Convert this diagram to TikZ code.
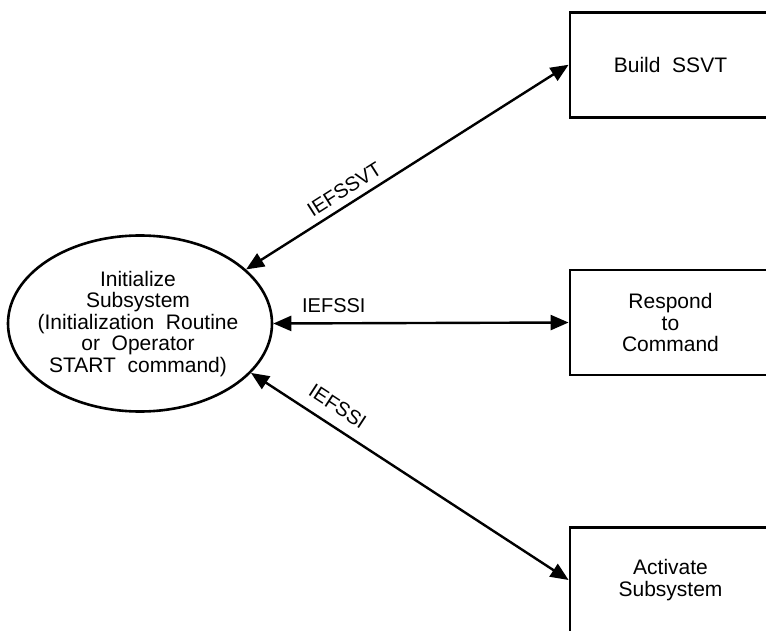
\documentclass[tikz,border=0pt]{standalone}
\usepackage{fontspec}
\setmainfont{Liberation Sans}
\usetikzlibrary{shapes.geometric,arrows.meta}
\begin{document}
\begin{tikzpicture}[x=1pt,y=-1pt,
  boxnode/.style={draw, line width=2.8pt, minimum width=201pt, minimum height=105pt,
    inner sep=0pt, align=center, font=\fontsize{21}{21.5}\selectfont},
  flow/.style={{Triangle[length=18pt,width=15pt]}-{Triangle[length=18pt,width=15pt]}, line width=2.4pt},
  lbl/.style={font=\fontsize{20}{20}\selectfont, inner sep=0pt}
]
\useasboundingbox (0,0) rectangle (766,631);
\clip (0,0) rectangle (766,631);
\node[draw, ellipse, line width=2.6pt, minimum width=264pt, minimum height=176pt, inner sep=0pt] (init) at (140,323.5) {};
\node[align=center, inner sep=0pt, font=\fontsize{21}{21.5}\selectfont] (inittext) at (138,324)
  {Initialize\\Subsystem\\(Initialization\ \ Routine\\or\ \ Operator\\START\ \ command)};
\node[boxnode] (build) at (670.5,64.75) {Build\ \ SSVT};
\node[boxnode] (respond) at (670.5,322.5) {Respond\\to\\Command};
\node[boxnode] (activate) at (670.5,580) {Activate\\Subsystem};
\draw[flow] (init.27.6) -- node[lbl, sloped, pos=0.33, above=7pt] {IEFSSVT} (build.west);
\draw[flow] (init.east) -- node[lbl, pos=0.205, above=9pt] {IEFSSI} (respond.west);
\draw[flow] (init.-24.7) -- node[lbl, sloped, pos=0.24, above=11pt] {IEFSSI} (activate.west);
\end{tikzpicture}
\end{document}
